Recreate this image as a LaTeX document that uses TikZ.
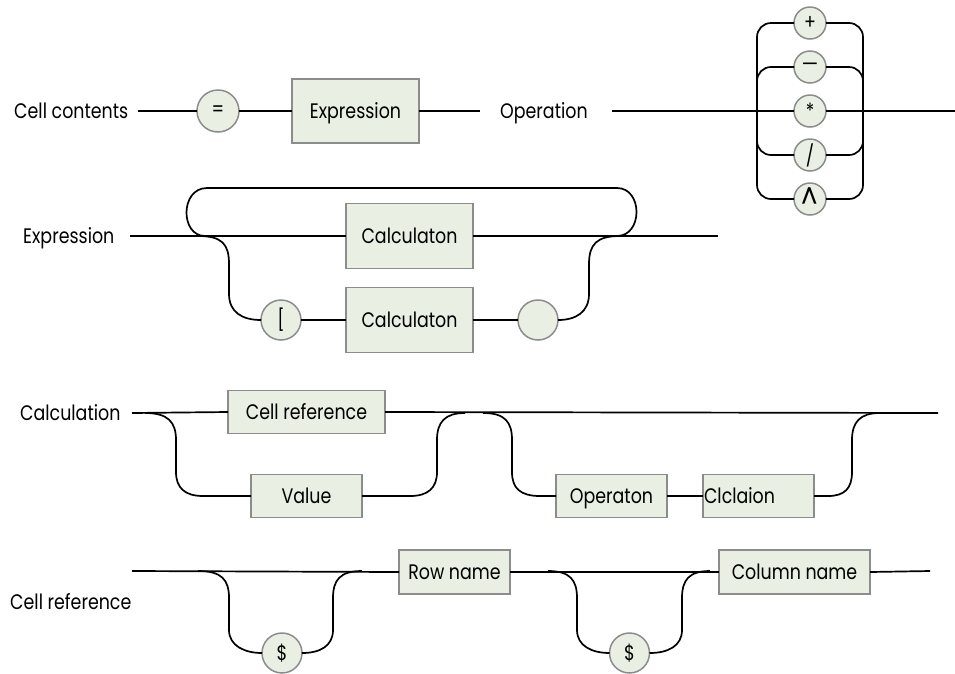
\documentclass[tikz,border=0pt]{standalone}
\usepackage{fontspec}
\setmainfont{Poppins}[FakeStretch=0.83]
\definecolor{boxfill}{RGB}{234,239,228}
\definecolor{boxedge}{RGB}{140,140,140}
\tikzset{
  txt/.style={font=\fontsize{21}{24}\selectfont},
  lbl/.style={txt, anchor=west, inner sep=0pt, text height=16pt, text depth=1.4pt},
  ntbox/.style={txt, rectangle, draw=boxedge, fill=boxfill, line width=1.5pt, inner sep=0pt, outer sep=0pt, text height=16pt, text depth=1.4pt},
  term/.style={txt, circle, draw=boxedge, fill=boxfill, line width=1.5pt, inner sep=0pt, outer sep=0pt, minimum size=40pt},
  opterm/.style={term, minimum size=32pt},
  rail/.style={line width=1.7pt, black},
}
\begin{document}
\begin{tikzpicture}[x=1pt, y=-1pt]
\useasboundingbox (0,0) rectangle (955,673);

% ---- Cell contents ----
\node[lbl] (cclbl) at (14,111) {Cell contents};
\node[term, minimum size=42pt] (eq) at (218,111) {=};
\node[ntbox, minimum width=127pt, minimum height=64pt] (expr) at (355.5,111) {Expression};
\coordinate (ccin) at (138,111);
\coordinate (ccout) at (480,111);
\draw[rail] (ccin) -- (eq.west);
\draw[rail] (eq.east) -- (expr.west);
\draw[rail] (expr.east) -- (ccout);

% ---- Operation ----
\node[lbl] (oplbl) at (500,111) {Operation};
\node[opterm] (plus) at (810,23) {+};
\node[opterm] (minus) at (810,67) {\scalebox{1.5}[1]{–}};
\node[opterm] (mul) at (810,111) {*};
\node[opterm] (div) at (810,155) {/};
\node[opterm] (pow) at (810,199) {\raisebox{-5pt}{\scalebox{1.5}{\textasciicircum}}};
\coordinate (opin) at (612,111);
\coordinate (opout) at (955,111);
\draw[rail] (opin) -- (mul.west);
\draw[rail] (mul.east) -- (opout);
\draw[rail, rounded corners=14pt] (plus.west) -| (757,199) -- (pow.west);
\draw[rail, rounded corners=14pt] (plus.east) -| (863,199) -- (pow.east);
\draw[rail, rounded corners=14pt] (minus.west) -| (757,155) -- (div.west);
\draw[rail, rounded corners=14pt] (minus.east) -| (863,155) -- (div.east);

% ---- Expression ----
\node[lbl] (exlbl) at (23,236) {Expression};
\node[ntbox, minimum width=127pt, minimum height=65pt] (calca) at (409.5,236) {Calculaton};
\node[ntbox, minimum width=127pt, minimum height=65pt] (calcb) at (409.5,320) {Calculaton};
\node[term] (lbr) at (281,320) {[};
\node[term] (rbr) at (538,320) {};
\coordinate (exin) at (130,236);
\coordinate (exout) at (718,236);
\draw[rail] (exin) -- (calca.west);
\draw[rail] (calca.east) -- (exout);
% bypass loop above
\draw[rail] (205,236) .. controls (180,236) and (180,188) .. (207,188)
  -- (617,188) .. controls (643,188) and (643,236) .. (617,236);
% bracketed branch below
\draw[rail] (198,236) .. controls (222,236) and (229,244) .. (229,264)
  -- (229,294) .. controls (229,312) and (242,320) .. (lbr.west);
\draw[rail] (lbr.east) -- (calcb.west);
\draw[rail] (calcb.east) -- (rbr.west);
\draw[rail] (rbr.east) .. controls (576,320) and (589,312) .. (589,294)
  -- (589,264) .. controls (589,244) and (597,236) .. (620,236);

% ---- Calculation ----
\node[lbl] (calclbl) at (20,413) {Calculation};
\node[ntbox, minimum width=157pt, minimum height=43pt] (cref) at (306.5,412) {Cell reference};
\node[ntbox, minimum width=111pt, minimum height=43pt] (val) at (306.5,496) {Value};
\node[ntbox, minimum width=111pt, minimum height=43pt] (opn) at (611.5,496) {Operaton};
\node[ntbox, minimum width=111pt, minimum height=43pt] (clc) at (758.5,496) {\makebox[109pt][l]{Clclaion}};
\coordinate (caIn) at (132,413);
\coordinate (caOut) at (938,413);
\draw[rail] (caIn) -- (cref.west);
\draw[rail] (cref.east) -- (caOut);
\draw[rail] (145,413) .. controls (168,413) and (176,422) .. (176,440)
  -- (176,472) .. controls (176,488) and (185,496) .. (203,496) -- (val.west);
\draw[rail] (val.east) -- (410,496) .. controls (428,496) and (437,488) .. (437,472)
  -- (437,440) .. controls (437,422) and (445,413) .. (465,413);
\draw[rail] (483,413) .. controls (505,413) and (512,422) .. (512,440)
  -- (512,472) .. controls (512,488) and (520,496) .. (540,496) -- (opn.west);
\draw[rail] (opn.east) -- (clc.west);
\draw[rail] (clc.east) -- (828,496) .. controls (845,496) and (852,488) .. (852,472)
  -- (852,440) .. controls (852,422) and (860,413) .. (880,413);

% ---- Cell reference ----
\node[lbl] (crlbl) at (10,602) {Cell reference};
\node[ntbox, minimum width=111pt, minimum height=44pt] (row) at (454.5,572) {Row name};
\node[ntbox, minimum width=151pt, minimum height=44pt] (col) at (794.5,572) {Column name};
\node[term] (dola) at (282,653) {\$};
\node[term] (dolb) at (629.5,653) {\$};
\coordinate (crin) at (132,571);
\coordinate (crout) at (930,571);
\draw[rail] (crin) -- (row.west);
\draw[rail] (row.east) -- (col.west);
\draw[rail] (col.east) -- (crout);
\draw[rail] (198,571) .. controls (222,571) and (229,580) .. (229,598)
  -- (229,630) .. controls (229,646) and (245,653) .. (dola.west);
\draw[rail] (dola.east) .. controls (320,653) and (333,646) .. (333,630)
  -- (333,598) .. controls (333,580) and (340,571) .. (362,571);
\draw[rail] (548,571) .. controls (570,571) and (577,580) .. (577,598)
  -- (577,630) .. controls (577,646) and (592,653) .. (dolb.west);
\draw[rail] (dolb.east) .. controls (668,653) and (682,646) .. (682,630)
  -- (682,598) .. controls (682,580) and (689,571) .. (710,571);
\end{tikzpicture}
\end{document}
